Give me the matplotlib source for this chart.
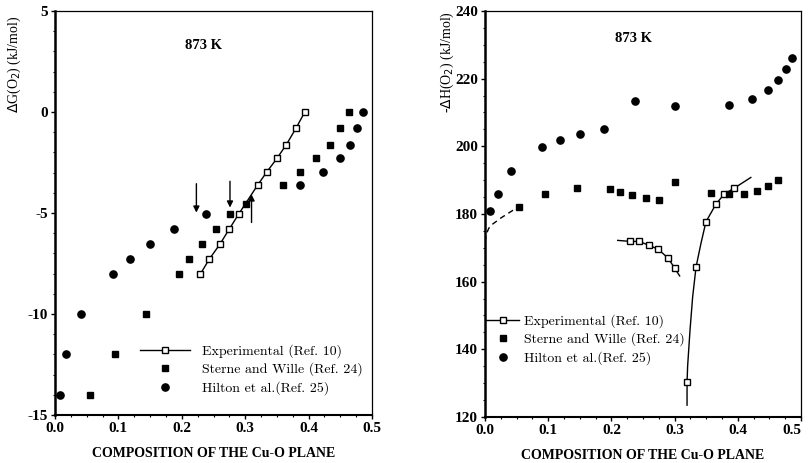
import matplotlib
matplotlib.use("Agg")
import matplotlib.pyplot as plt
from matplotlib.lines import Line2D
from matplotlib.ticker import MultipleLocator, FormatStrFormatter

plt.rcParams['axes.unicode_minus'] = False
plt.rcParams['font.family'] = ['Liberation Serif', 'DejaVu Serif']

# ---------------- Left panel: Delta G(O2) ----------------
g_exp_x = [0.229, 0.243, 0.260, 0.275, 0.290, 0.320, 0.334, 0.350, 0.365, 0.380, 0.394]
g_exp_y = [-8.04, -7.30, -6.55, -5.79, -5.04, -3.60, -2.97, -2.30, -1.61, -0.81, 0.0]

g_sw_x = [0.055, 0.095, 0.1435, 0.195, 0.212, 0.232, 0.254, 0.276, 0.301,
          0.359, 0.387, 0.412, 0.433, 0.450, 0.464]
g_sw_y = [-14.0, -12.0, -10.0, -8.04, -7.30, -6.55, -5.79, -5.04, -4.56,
          -3.60, -2.97, -2.30, -1.61, -0.81, 0.0]

g_hi_x = [0.008, 0.018, 0.0415, 0.092, 0.119, 0.150, 0.187, 0.238,
          0.387, 0.422, 0.450, 0.465, 0.477, 0.486]
g_hi_y = [-14.0, -12.0, -10.0, -8.04, -7.30, -6.55, -5.79, -5.04,
          -3.60, -2.97, -2.30, -1.61, -0.81, 0.0]

# arrows: (x, y_start, y_end)
g_arrows = [(0.223, -3.55, -4.98), (0.276, -3.43, -4.73), (0.310, -5.47, -4.08)]

# ---------------- Right panel: -Delta H(O2) ----------------
h_hi_x = [0.0084, 0.020, 0.041, 0.090, 0.118, 0.151, 0.188, 0.238, 0.301,
          0.386, 0.422, 0.448, 0.464, 0.477, 0.486]
h_hi_y = [180.9, 185.9, 192.8, 199.7, 201.9, 203.6, 205.1, 213.5, 211.9,
          212.3, 214.0, 216.6, 219.5, 222.9, 226.0]

h_sw_x = [0.054, 0.095, 0.145, 0.197, 0.214, 0.233, 0.254, 0.276, 0.301,
          0.358, 0.386, 0.410, 0.431, 0.448, 0.463]
h_sw_y = [182.2, 185.8, 187.8, 187.4, 186.4, 185.7, 184.7, 184.2, 189.5,
          186.3, 185.8, 186.0, 186.9, 188.2, 190.0]

h_exp1_x = [0.230, 0.244, 0.260, 0.274, 0.290, 0.300]
h_exp1_y = [171.9, 171.9, 170.7, 169.6, 166.9, 164.0]
h_exp2_x = [0.3197, 0.334, 0.3496, 0.3654, 0.3785, 0.394]
h_exp2_y = [130.2, 164.4, 177.7, 182.9, 185.9, 187.6]

# hand-drawn curves
h_curve1_x = [0.210, 0.230, 0.244, 0.260, 0.274, 0.290, 0.300, 0.308]
h_curve1_y = [172.2, 171.9, 171.9, 170.7, 169.6, 166.9, 164.0, 161.7]
h_curve2_x = [0.3197, 0.3197, 0.3206, 0.3244, 0.3286, 0.334, 0.3417, 0.3496,
              0.3654, 0.3785, 0.394, 0.4206]
h_curve2_y = [123.5, 130.2, 135.0, 145.7, 155.6, 164.4, 171.3, 177.7,
              182.9, 185.9, 187.6, 190.8]
h_dash_x = [0.0, 0.002, 0.006, 0.012, 0.025, 0.040, 0.054]
h_dash_y = [171.8, 174.0, 175.8, 177.0, 178.8, 180.6, 182.2]

legend_labels = ["Experimental (Ref. 10)", "Sterne and Wille (Ref. 24)", "Hilton et al.(Ref. 25)"]
x_ticks = [0.0, 0.1, 0.2, 0.3, 0.4, 0.5]
g_ticks = [5, 0, -5, -10, -15]
h_ticks = [240, 220, 200, 180, 160, 140, 120]

W, H = 809, 463
fig = plt.figure(figsize=(W / 100, H / 100), dpi=100)

def fx(px):
    return px / W

def fy(py):
    return 1 - py / H

axL = fig.add_axes([fx(55), fy(415), (372 - 55) / W, (415 - 11) / H])
axR = fig.add_axes([fx(485), fy(417), (801 - 485) / W, (417 - 11) / H])

ms = 5
ms_c = 5.2
tick_font = dict(family='Liberation Serif', weight='bold', size=11)

for ax in (axL, axR):
    ax.set_xlim(0, 0.5)
    ax.set_xticks(x_ticks)
    ax.xaxis.set_major_formatter(FormatStrFormatter('%.1f'))
    ax.xaxis.set_minor_locator(MultipleLocator(0.025))
    ax.tick_params(which='major', direction='out', length=3, width=1, pad=2)
    ax.tick_params(which='minor', direction='out', length=1.5, width=0.8)
    ax.spines['left'].set_linewidth(1.8)
    ax.spines['bottom'].set_linewidth(1.5)
    ax.spines['top'].set_linewidth(0.9)
    ax.spines['right'].set_linewidth(0.9)
    ax.set_xlabel("COMPOSITION OF THE Cu-O PLANE", fontsize=10, fontweight='bold', labelpad=9)

# Left
axL.set_ylim(-15, 5)
axL.set_yticks(g_ticks)
axL.yaxis.set_minor_locator(MultipleLocator(1))
for lab in axL.get_xticklabels() + axL.get_yticklabels():
    lab.set_fontproperties(tick_font)
axL.plot(g_exp_x, g_exp_y, '-', color='black', lw=1.0, marker='s', ms=ms,
         mfc='white', mec='black', mew=1.0, zorder=3)
axL.plot(g_sw_x, g_sw_y, 's', color='black', ms=ms, zorder=4)
axL.plot(g_hi_x, g_hi_y, 'o', color='black', ms=ms_c, zorder=4)
for x, y0, y1 in g_arrows:
    axL.annotate("", xy=(x, y1), xytext=(x, y0),
                 arrowprops=dict(arrowstyle='-|>', color='black', lw=1.0,
                                 mutation_scale=9, shrinkA=0, shrinkB=0))
axL.text(0.235, 3.3, "873 K", fontsize=10.5, fontweight='bold', ha='center', va='center')
fig.text(fx(14), fy(64), r"$\Delta$G(O$_2$) (kJ/mol)", rotation=90, ha='center', va='center',
         fontsize=10)

# Right
axR.set_ylim(120, 240)
axR.set_yticks(h_ticks)
axR.yaxis.set_minor_locator(MultipleLocator(5))
for lab in axR.get_xticklabels() + axR.get_yticklabels():
    lab.set_fontproperties(tick_font)
axR.get_xticklabels()[-1].set_horizontalalignment('right')
axR.get_xticklabels()[-1].set_x(0.5)
axR.plot(h_curve1_x, h_curve1_y, '-', color='black', lw=1.0, zorder=2)
axR.plot(h_curve2_x, h_curve2_y, '-', color='black', lw=1.0, zorder=2)
axR.plot(h_dash_x, h_dash_y, '--', color='black', lw=1.0, dashes=(4, 3), zorder=2)
axR.plot(h_exp1_x, h_exp1_y, 's', ms=ms, mfc='white', mec='black', mew=1.0, zorder=3)
axR.plot(h_exp2_x, h_exp2_y, 's', ms=ms, mfc='white', mec='black', mew=1.0, zorder=3)
axR.plot(h_sw_x, h_sw_y, 's', color='black', ms=ms, zorder=4)
axR.plot(h_hi_x, h_hi_y, 'o', color='black', ms=ms_c, zorder=4)
axR.text(0.235, 232, "873 K", fontsize=10.5, fontweight='bold', ha='center', va='center')
fig.text(fx(447), fy(62), r"-$\Delta$H(O$_2$) (kJ/mol)", rotation=90, ha='center', va='center',
         fontsize=10)

handles = [
    Line2D([], [], color='black', lw=1.0, marker='s', ms=ms, mfc='white', mec='black'),
    Line2D([], [], color='black', lw=0, marker='s', ms=ms),
    Line2D([], [], color='black', lw=0, marker='o', ms=ms_c),
]
legL = axL.legend(handles, legend_labels, loc='upper left',
                  bbox_to_anchor=((140 - 55) / 317, (415 - 344) / 404),
                  frameon=False, handlelength=3.6, handletextpad=0.9,
                  labelspacing=0.35, borderpad=0, borderaxespad=0,
                  prop=dict(family='cmr10', size=10))
legR = axR.legend(handles, legend_labels, loc='upper left',
                  bbox_to_anchor=((486 - 485) / 316, (417 - 314) / 406),
                  frameon=False, handlelength=2.4, handletextpad=0.3,
                  labelspacing=0.35, borderpad=0, borderaxespad=0,
                  prop=dict(family='cmr10', size=10))

fig.savefig("out.png", dpi=100)
